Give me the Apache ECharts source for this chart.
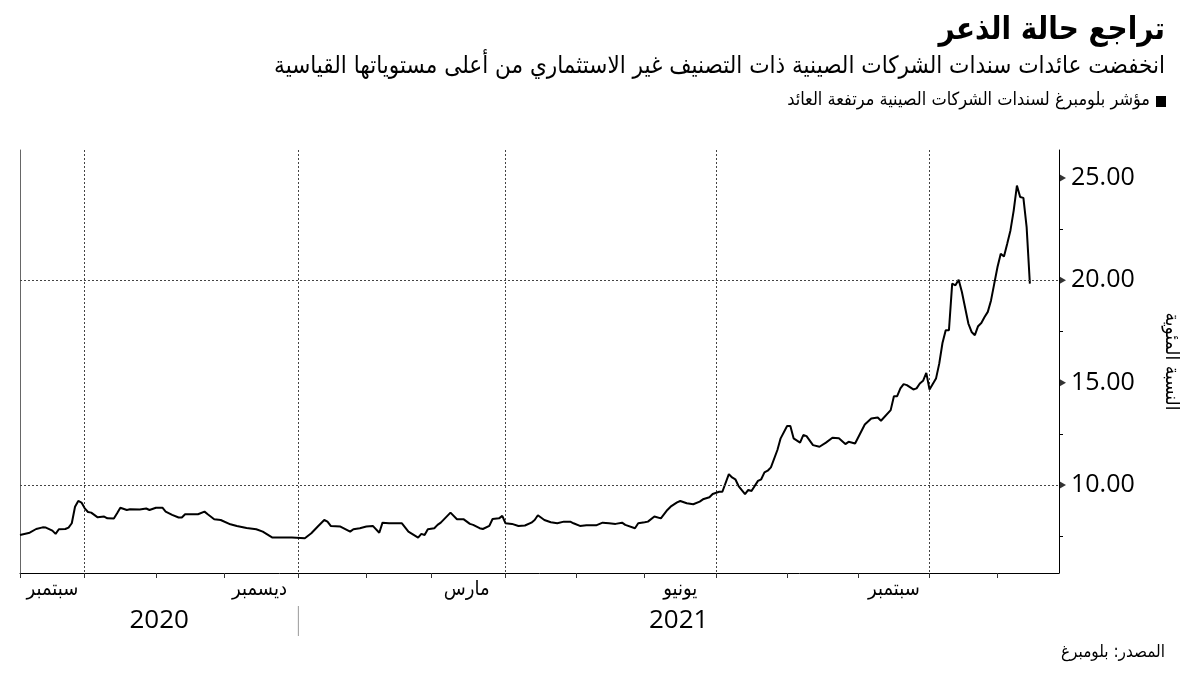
<!DOCTYPE html>
<html><head><meta charset="utf-8">
<script src="https://cdn.jsdelivr.net/npm/echarts@6/dist/echarts.min.js"></script>
<style>html,body{margin:0;padding:0;background:#fff}#c{width:1200px;height:675px}</style>
</head><body><div id="c"></div>
<script>
const titleText = 'تراجع حالة الذعر';
const subtitleText = 'انخفضت عائدات سندات الشركات الصينية ذات التصنيف غير الاستثماري من أعلى مستوياتها القياسية';
const legendText = 'مؤشر بلومبرغ لسندات الشركات الصينية مرتفعة العائد';
const sourceText = 'المصدر: بلومبرغ';
const yAxisName = 'النسبة المئوية';
const axisStart = '2020-09-03';
const axisEnd = '2021-11-26';
const labelMonths = ['2020-09', '2020-12', '2021-03', '2021-06', '2021-09'];
const monthNames = { '09': 'سبتمبر', '12': 'ديسمبر', '03': 'مارس', '06': 'يونيو' };
const quarterMonths = ['01', '04', '07', '10'];
const years = ['2020', '2021'];
const yTicks = [10, 15, 20, 25];
const yMinorTicks = [7.5, 12.5, 17.5, 22.5];
const gridValues = [10, 20];

const dates = [
'2020-09-03','2020-09-08','2020-09-10','2020-09-14','2020-09-15','2020-09-17','2020-09-18','2020-09-21','2020-09-23','2020-09-24','2020-09-25','2020-09-28','2020-09-29','2020-09-30',
'2020-10-01','2020-10-02','2020-10-05','2020-10-07','2020-10-09','2020-10-12','2020-10-14','2020-10-15','2020-10-16','2020-10-20','2020-10-21','2020-10-26','2020-10-28','2020-10-29',
'2020-11-02','2020-11-04','2020-11-05','2020-11-09','2020-11-11','2020-11-12','2020-11-13','2020-11-19','2020-11-23','2020-11-24','2020-11-26','2020-11-30',
'2020-12-03','2020-12-07','2020-12-10','2020-12-15','2020-12-17','2020-12-22','2020-12-30',
'2021-01-05','2021-01-07','2021-01-11','2021-01-13','2021-01-14','2021-01-15','2021-01-20','2021-01-25','2021-01-26','2021-01-28',
'2021-02-01','2021-02-03','2021-02-05','2021-02-08','2021-02-10','2021-02-16','2021-02-18','2021-02-23','2021-02-24','2021-02-25','2021-02-26',
'2021-03-02','2021-03-03','2021-03-04','2021-03-09','2021-03-11','2021-03-15','2021-03-17','2021-03-18','2021-03-22','2021-03-23','2021-03-25','2021-03-26','2021-03-30','2021-03-31',
'2021-04-01','2021-04-05','2021-04-07','2021-04-09','2021-04-13','2021-04-14','2021-04-15','2021-04-19','2021-04-21','2021-04-23','2021-04-27','2021-04-29','2021-04-30',
'2021-05-04','2021-05-06','2021-05-11','2021-05-13','2021-05-17','2021-05-19','2021-05-21','2021-05-24','2021-05-27','2021-05-28',
'2021-06-01','2021-06-02','2021-06-04','2021-06-08','2021-06-10','2021-06-11','2021-06-15','2021-06-16','2021-06-18','2021-06-22','2021-06-24','2021-06-25','2021-06-29','2021-06-30',
'2021-07-02','2021-07-05','2021-07-07','2021-07-08','2021-07-09','2021-07-12','2021-07-14','2021-07-15','2021-07-16','2021-07-20','2021-07-21','2021-07-22','2021-07-23','2021-07-26','2021-07-28','2021-07-29',
'2021-08-02','2021-08-03','2021-08-04','2021-08-06','2021-08-09','2021-08-10','2021-08-12','2021-08-16','2021-08-18','2021-08-20','2021-08-24','2021-08-26','2021-08-27','2021-08-31',
'2021-09-03','2021-09-07','2021-09-09','2021-09-10','2021-09-15','2021-09-16','2021-09-17','2021-09-20','2021-09-21','2021-09-22','2021-09-24','2021-09-27','2021-09-28','2021-09-29','2021-09-30',
'2021-10-01','2021-10-05','2021-10-06','2021-10-07','2021-10-08','2021-10-11','2021-10-12','2021-10-13','2021-10-14','2021-10-15','2021-10-19','2021-10-20','2021-10-21','2021-10-22','2021-10-25','2021-10-26','2021-10-27','2021-10-28','2021-10-29',
'2021-11-01','2021-11-02','2021-11-03','2021-11-04','2021-11-05','2021-11-08','2021-11-09','2021-11-10','2021-11-11','2021-11-12','2021-11-15'
];
const values = [
7.56,7.67,7.85,7.93,7.92,7.77,7.61,7.84,7.85,7.92,8.13,8.94,9.22,9.14,
8.86,8.68,8.65,8.42,8.46,8.37,8.36,8.62,8.89,8.78,8.81,8.80,8.85,8.78,
8.89,8.89,8.70,8.54,8.41,8.41,8.57,8.57,8.70,8.57,8.33,8.29,
8.08,8.00,7.90,7.84,7.72,7.43,7.43,
7.40,7.64,7.97,8.29,8.21,8.00,7.97,7.72,7.84,7.89,
7.97,8.00,7.67,8.16,8.13,8.13,7.72,7.43,7.61,7.56,7.84,
7.89,8.05,8.16,8.65,8.33,8.33,8.10,8.05,7.89,7.85,8.00,8.34,8.37,8.49,
8.13,8.10,8.00,8.02,8.16,8.29,8.52,8.29,8.18,8.13,8.21,8.21,8.13,
8.00,8.03,8.03,8.16,8.13,8.10,8.16,8.05,7.89,8.13,
8.18,8.21,8.46,8.37,8.78,8.94,9.15,9.22,9.11,9.06,9.19,9.30,9.40,9.56,
9.67,9.67,10.53,10.37,10.28,9.95,9.55,9.76,9.71,10.20,10.28,10.62,10.70,10.86,11.71,12.28,
12.88,12.88,12.28,12.07,12.44,12.39,11.95,11.87,12.07,12.31,12.28,12.00,12.11,12.03,
12.96,13.25,13.30,13.14,13.66,14.34,14.34,14.72,14.93,14.88,14.67,14.72,14.96,15.09,15.48,
14.67,15.20,15.93,16.94,17.56,17.56,19.84,19.76,20.03,19.43,17.89,17.48,17.32,17.76,17.92,18.21,18.46,19.02,19.84,
20.65,21.30,21.17,21.79,22.44,23.41,24.63,24.07,24.03,22.60,19.84
];

// build weekday categories for the axis
const categories = [];
(function () {
  const s = new Date(axisStart + 'T00:00:00Z'), e = new Date(axisEnd + 'T00:00:00Z');
  for (let d = new Date(s); d <= e; d.setUTCDate(d.getUTCDate() + 1)) {
    const wd = d.getUTCDay();
    if (wd !== 0 && wd !== 6) categories.push(d.toISOString().slice(0, 10));
  }
})();
const monthStart = new Set(), quarterStart = new Set(), labelIdx = {};
categories.forEach((c, i) => {
  const m = c.slice(0, 7);
  if (i === 0 || categories[i - 1].slice(0, 7) !== m) {
    monthStart.add(i);
    if (i > 0 && quarterMonths.includes(c.slice(5, 7))) quarterStart.add(i);
  }
});
labelMonths.forEach(m => {
  const idx = categories.map((c, i) => c.startsWith(m) ? i : -1).filter(i => i >= 0);
  labelIdx[Math.round((idx[0] + idx[idx.length - 1]) / 2)] = monthNames[m.slice(5, 7)];
});
const lastCat = categories[categories.length - 1];
const AR = '"DejaVu Sans Condensed","DejaVu Sans",sans-serif';
const NUM = '"Open Sans","Noto Sans",sans-serif';

const chart = echarts.init(document.getElementById('c'), null, { renderer: 'canvas' });
chart.setOption({
  animation: false,
  backgroundColor: '#fff',
  grid: { left: 20, right: 141, top: 150, bottom: 102 },
  xAxis: {
    type: 'category', data: categories, boundaryGap: false,
    axisLine: { show: true, lineStyle: { color: '#000', width: 1 } },
    axisTick: { show: true, length: 5, interval: (i) => monthStart.has(i), lineStyle: { color: '#333' } },
    axisLabel: {
      interval: (i) => labelIdx[i] !== undefined,
      formatter: (v, i) => labelIdx[i] || '',
      fontFamily: AR, fontSize: 20, color: '#000', margin: 7
    },
    splitLine: { show: true, interval: (i) => quarterStart.has(i), lineStyle: { color: '#444', type: [2, 2], width: 1 } }
  },
  yAxis: [{
    type: 'value', position: 'right', min: 5.7, max: 26.37,
    axisLine: { show: true, lineStyle: { color: '#000', width: 1 } },
    axisTick: { show: true, customValues: yMinorTicks, length: 4, lineStyle: { color: '#000' } },
    axisLabel: { customValues: yTicks, formatter: (v) => v.toFixed(2), fontFamily: NUM, fontSize: 25, color: '#000', margin: 12 },
    splitLine: { show: false },
    name: yAxisName, nameLocation: 'middle', nameRotate: -90, nameGap: 102,
    nameTextStyle: { fontFamily: AR, fontSize: 19, color: '#000' }
  }, {
    type: 'value', position: 'left', min: 5.7, max: 26.37,
    axisLine: { show: true, lineStyle: { color: '#666', width: 1 } },
    axisTick: { show: false }, axisLabel: { show: false }, splitLine: { show: false }
  }],
  series: [{
    type: 'line', data: dates.map((d, i) => [d, values[i]]),
    showSymbol: false, symbol: 'none',
    lineStyle: { color: '#000', width: 2 }, itemStyle: { color: '#000' },
    markLine: {
      silent: true, symbol: 'none', label: { show: false },
      lineStyle: { color: '#444', type: [2, 2], width: 1 },
      data: gridValues.map(v => ({ yAxis: v }))
    },
    z: 3
  }, {
    type: 'scatter', data: yTicks.map(v => [lastCat, v]),
    symbol: 'triangle', symbolRotate: -90, symbolSize: [8, 7], symbolOffset: [3.5, 0],
    itemStyle: { color: '#000' }, silent: true, clip: false, z: 5
  }]
});

const xJan = chart.convertToPixel({ xAxisIndex: 0 }, categories.findIndex(c => c.startsWith('2021-01')));
const x0 = chart.convertToPixel({ xAxisIndex: 0 }, 0);
const x1 = chart.convertToPixel({ xAxisIndex: 0 }, categories.length - 1);
chart.setOption({
  graphic: [
    { type: 'text', right: 35, top: 15, style: { text: titleText, font: 'bold 31px ' + AR, fill: '#000', align: 'right' } },
    { type: 'text', right: 35, top: 55, style: { text: subtitleText, font: '24px ' + AR, fill: '#000', align: 'right' } },
    { type: 'rect', shape: { x: 1156, y: 96, width: 10, height: 11 }, style: { fill: '#000' } },
    { type: 'text', right: 50, top: 91, style: { text: legendText, font: '18px ' + AR, fill: '#000', align: 'right' } },
    { type: 'text', right: 35, top: 644, style: { text: sourceText, font: '17px ' + AR, fill: '#000', align: 'right' } },
    { type: 'text', x: (x0 + xJan) / 2, y: 621, style: { text: years[0], font: '26px ' + NUM, fill: '#000', align: 'center', verticalAlign: 'middle' } },
    { type: 'text', x: (xJan + x1) / 2, y: 621, style: { text: years[1], font: '26px ' + NUM, fill: '#000', align: 'center', verticalAlign: 'middle' } },
    { type: 'line', shape: { x1: xJan, y1: 606, x2: xJan, y2: 636 }, style: { stroke: '#999', lineWidth: 1 } }
  ]
});
</script></body></html>
